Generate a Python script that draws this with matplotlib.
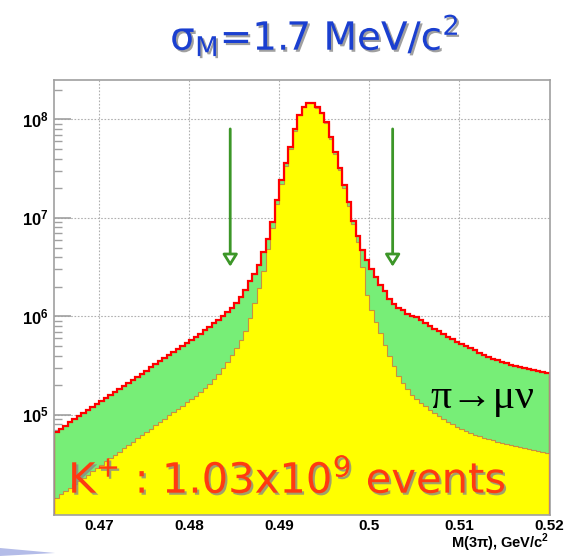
import numpy as np
import matplotlib
matplotlib.use("Agg")
import matplotlib.pyplot as plt
import matplotlib.patheffects as pe
from matplotlib.patches import Polygon
from matplotlib.ticker import FixedLocator, FixedFormatter, FuncFormatter, LogLocator, NullFormatter

plt.rcParams['mathtext.fontset'] = 'custom'
plt.rcParams['mathtext.rm'] = 'DejaVu Sans'
plt.rcParams['mathtext.it'] = 'DejaVu Sans:italic'
plt.rcParams['mathtext.bf'] = 'Liberation Sans:bold'
plt.rcParams['mathtext.sf'] = 'DejaVu Sans'

# ---- data ----
bin_lo = 0.465
bin_hi = 0.520
n_bins = 110
# total (K->3pi incl. pi->mu nu decays), counts per bin
total_counts = [
    6.76e4, 7.26e4, 7.80e4, 8.38e4, 9.00e4, 9.66e4, 1.04e5, 1.11e5, 1.20e5, 1.29e5,
    1.38e5, 1.48e5, 1.59e5, 1.71e5, 1.84e5, 1.97e5, 2.12e5, 2.28e5, 2.44e5, 2.62e5,
    2.82e5, 3.03e5, 3.25e5, 3.49e5, 3.75e5, 4.03e5, 4.33e5, 4.65e5, 4.99e5, 5.36e5,
    5.75e5, 6.18e5, 6.64e5, 7.24e5, 7.76e5, 8.51e5, 9.12e5, 1.00e6, 1.10e6, 1.23e6,
    1.38e6, 1.58e6, 1.86e6, 2.29e6, 2.69e6, 3.31e6, 4.47e6, 6.17e6, 9.12e6, 1.51e7,
    2.40e7, 3.63e7, 5.25e7, 7.94e7, 1.12e8, 1.35e8, 1.48e8, 1.48e8, 1.32e8, 1.17e8,
    9.33e7, 6.61e7, 4.68e7, 3.24e7, 2.14e7, 1.45e7, 9.33e6, 6.61e6, 4.68e6, 3.72e6,
    3.02e6, 2.51e6, 2.09e6, 1.82e6, 1.51e6, 1.35e6, 1.23e6, 1.15e6, 1.07e6, 1.02e6,
    9.77e5, 9.12e5, 8.51e5, 7.94e5, 7.41e5, 7.08e5, 6.61e5, 6.17e5, 5.89e5, 5.50e5,
    5.25e5, 5.01e5, 4.79e5, 4.52e5, 4.27e5, 4.07e5, 3.89e5, 3.72e5, 3.59e5, 3.47e5,
    3.35e5, 3.24e5, 3.16e5, 3.09e5, 3.02e5, 2.95e5, 2.88e5, 2.82e5, 2.75e5, 2.69e5,
]
# without pi->mu nu decays (yellow)
nodecay_counts = [
    1.45e4, 1.56e4, 1.69e4, 1.82e4, 1.97e4, 2.12e4, 2.29e4, 2.48e4, 2.67e4, 2.89e4,
    3.12e4, 3.37e4, 3.64e4, 3.93e4, 4.25e4, 4.58e4, 4.94e4, 5.35e4, 5.77e4, 6.24e4,
    6.73e4, 7.26e4, 7.85e4, 8.47e4, 9.16e4, 9.89e4, 1.07e5, 1.15e5, 1.24e5, 1.35e5,
    1.45e5, 1.57e5, 1.69e5, 1.86e5, 2.04e5, 2.29e5, 2.63e5, 3.02e5, 3.47e5, 4.07e5,
    4.79e5, 5.75e5, 7.08e5, 9.55e5, 1.38e6, 1.95e6, 2.88e6, 4.79e6, 7.94e6, 1.38e7,
    2.19e7, 3.39e7, 5.01e7, 7.59e7, 1.10e8, 1.32e8, 1.46e8, 1.46e8, 1.29e8, 1.15e8,
    9.12e7, 6.31e7, 4.47e7, 3.09e7, 2.00e7, 1.32e7, 8.71e6, 5.75e6, 3.16e6, 1.66e6,
    1.15e6, 8.71e5, 6.76e5, 5.13e5, 3.98e5, 3.16e5, 2.51e5, 2.09e5, 1.82e5, 1.58e5,
    1.45e5, 1.32e5, 1.23e5, 1.12e5, 1.05e5, 9.77e4, 9.12e4, 8.51e4, 8.04e4, 7.59e4,
    7.24e4, 6.92e4, 6.61e4, 6.31e4, 6.10e4, 5.89e4, 5.69e4, 5.50e4, 5.37e4, 5.19e4,
    5.01e4, 4.90e4, 4.79e4, 4.68e4, 4.57e4, 4.47e4, 4.37e4, 4.27e4, 4.17e4, 4.07e4,
]
arrow_x = [0.48456, 0.50259]
arrow_top = 8.0e7
arrow_tip = 3.2e6
xtick_vals = [0.47, 0.48, 0.49, 0.50, 0.51, 0.52]
xtick_labels = ['0.47', '0.48', '0.49', '0.5', '0.51', '0.52']
ytick_vals = [1e5, 1e6, 1e7, 1e8]
x_range = (0.465, 0.52)
y_range = (9.64e3, 2.51e8)

edges = np.linspace(bin_lo, bin_hi, n_bins + 1)

fig = plt.figure(figsize=(5.76, 5.56), dpi=100)
ax = fig.add_axes([54 / 576, 41 / 556, 495.5 / 576, 435 / 556])
ax.set_yscale('log')
ax.set_xlim(*x_range)
ax.set_ylim(*y_range)

ax.stairs(total_counts, edges, baseline=1.0, fill=True, color='#77ee77', zorder=2)
ax.stairs(nodecay_counts, edges, baseline=1.0, fill=True, color='#ffff00', zorder=3)
ax.stairs(nodecay_counts, edges, baseline=1.0, fill=False, color='#c89040', lw=0.8, zorder=4)
ax.stairs(total_counts, edges, baseline=1.0, fill=False, color='#ff0000', lw=1.6, zorder=5)

green = '#3c9628'
for xa in arrow_x:
    ax.annotate('', xy=(xa, arrow_tip), xytext=(xa, arrow_top),
                arrowprops=dict(arrowstyle='-|>,head_length=0.45,head_width=0.28', ec=green, fc='white',
                                lw=2.0, mutation_scale=16, shrinkA=0, shrinkB=0), zorder=6)

# axes style
for s in ax.spines.values():
    s.set_color('#a0a0a0')
    s.set_linewidth(1.2)
    s.set_zorder(7)
ax.set_axisbelow(True)
ax.grid(True, which='major', color='#b0b0b0', ls=(0, (1.5, 1.5)), lw=0.8)
ax.xaxis.set_major_locator(FixedLocator(xtick_vals))
ax.xaxis.set_major_formatter(FixedFormatter(xtick_labels))
ax.yaxis.set_major_locator(FixedLocator(ytick_vals))
ax.yaxis.set_major_formatter(FuncFormatter(lambda v, p: r'$\mathbf{10^{%d}}$' % round(np.log10(v))))
ax.yaxis.set_minor_locator(LogLocator(base=10, subs=np.arange(2, 10)))
ax.yaxis.set_minor_formatter(NullFormatter())
ax.tick_params(axis='y', which='major', direction='in', length=12, width=1.2, color='#a0a0a0',
               labelsize=12, pad=4)
ax.tick_params(axis='y', which='minor', direction='in', length=6, width=1.0, color='#a0a0a0')
ax.tick_params(axis='x', which='both', direction='in', length=0, labelsize=11, pad=3)
for lab in ax.get_xticklabels():
    lab.set_fontfamily('Liberation Sans')
    lab.set_fontweight('bold')

fig.text(549 / 576, 1 - 543 / 556, r'M(3π), GeV/c$^{\mathbf{2}}$', ha='right', va='center',
         fontsize=10.5, fontweight='bold', family=['Liberation Sans', 'DejaVu Sans'])

shadow = [pe.withSimplePatchShadow(offset=(1.5, -1.5), shadow_rgbFace='#888888', alpha=0.8)]
fig.text(0.546, 1 - 50 / 556, r'$\mathregular{σ_M}$=1.7 MeV/c$^\mathregular{2}$', ha='center', va='baseline',
         fontsize=28, color='#1a3fd0', family=['DejaVu Sans'], path_effects=shadow)

ax.text(0.470, 0.0506, r'K$^\mathregular{+}$ : 1.03x10$^\mathregular{9}$ events', transform=ax.transAxes,
        ha='center', va='baseline', fontsize=30, color='#ff3a10', family=['DejaVu Sans'],
        path_effects=shadow, zorder=8)

ax.text(0.759, 0.246, 'π→μν', transform=ax.transAxes, ha='left', va='baseline',
        fontsize=30, color='black', family=['Liberation Serif', 'DejaVu Serif'], zorder=8)

# slide decoration fragment, bottom left
fig.patches.append(Polygon([[0, 8 / 556], [55 / 576, 3 / 556], [0, 0]], closed=True,
                           transform=fig.transFigure, facecolor='#b4bce8', edgecolor='none'))

fig.savefig('out.png', dpi=100)
